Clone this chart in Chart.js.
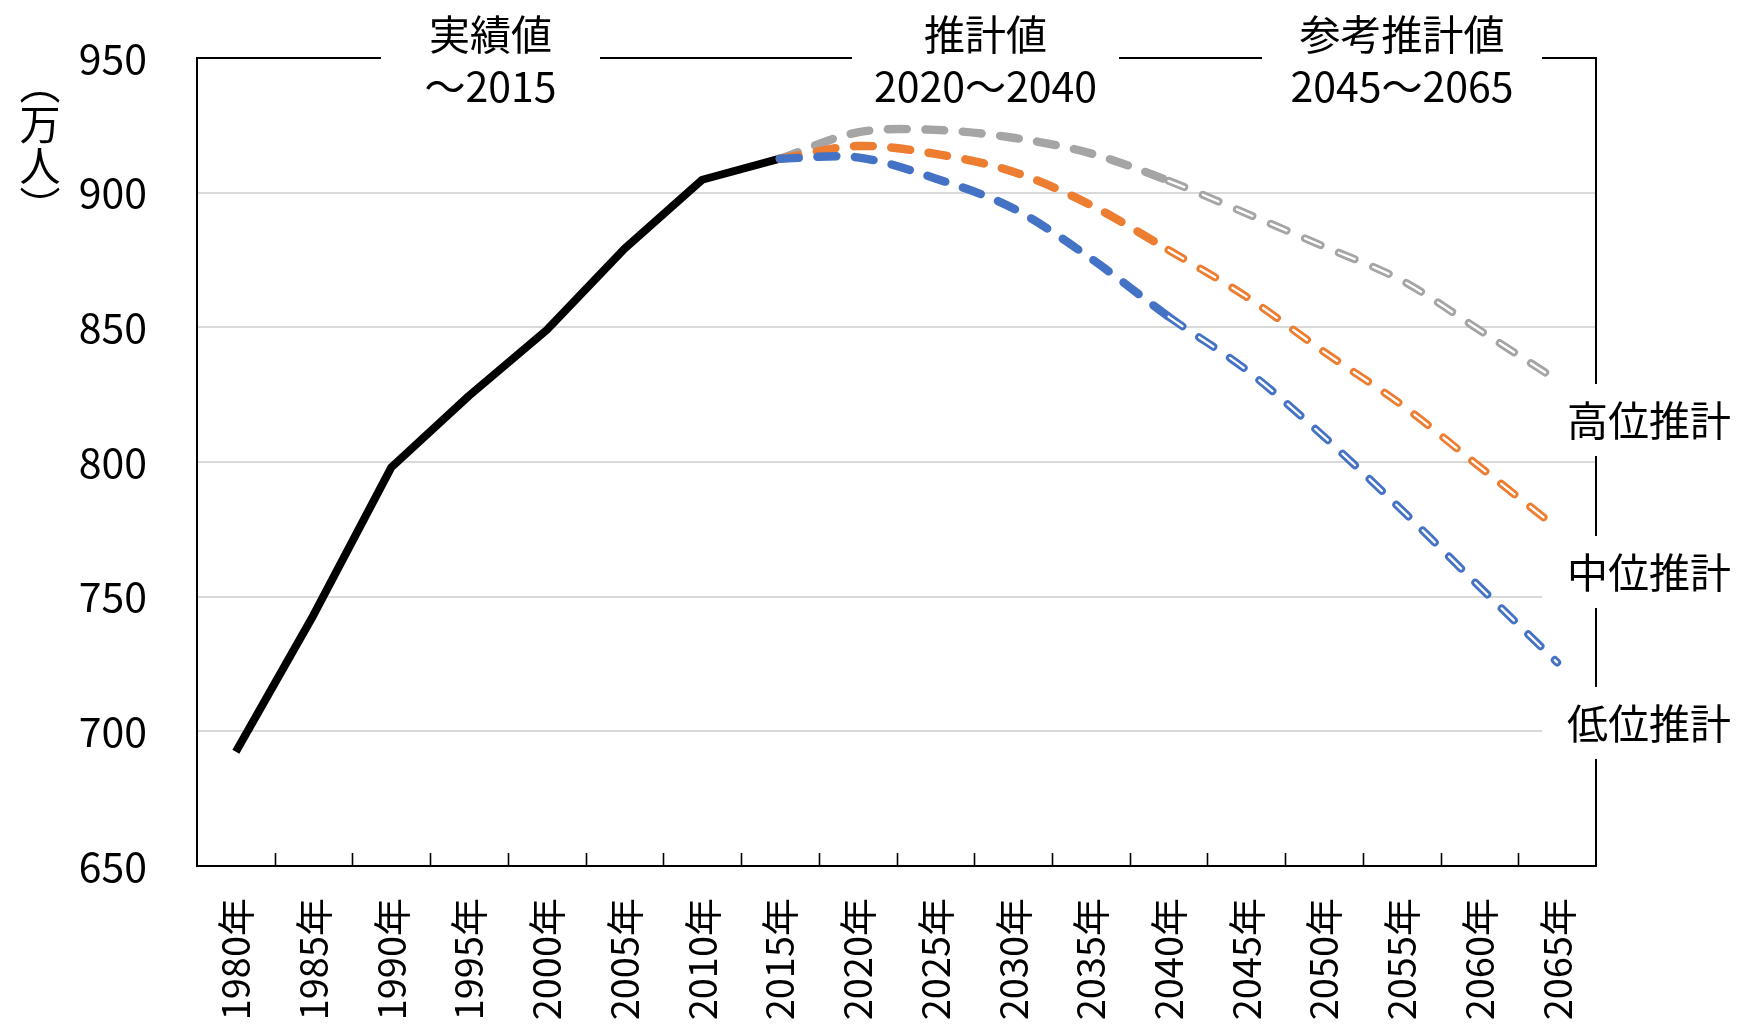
<!DOCTYPE html>
<html>
<head>
<meta charset="utf-8">
<script src="https://cdn.jsdelivr.net/npm/chart.js@4/dist/chart.umd.min.js"></script>
<style>
  html, body { margin: 0; padding: 0; background: #fff; }
  #wrap { width: 1738px; height: 1024px; }
</style>
</head>
<body>
<div id="wrap"><canvas id="c" width="1738" height="1024"></canvas></div>
<script>
// Population (万人): census results to 2015, projections 2020-2040, reference projections 2045-2065
const years = ['1980年','1985年','1990年','1995年','2000年','2005年','2010年','2015年','2020年',
               '2025年','2030年','2035年','2040年','2045年','2050年','2055年','2060年','2065年'];
const actual   = [692.4, 743.2, 798.0, 824.6, 849.0, 879.2, 904.8, 912.6];
// projection series start from the 2015 result
const highProj = [912.6, 922.4, 923.3, 920.4, 914.6, 904.4, 892.3, 880.0, 867.4, 849.0, 830.4];
const midProj  = [912.6, 917.3, 914.4, 907.8, 895.4, 878.7, 861.4, 840.9, 821.2, 798.3, 775.5];
const lowProj  = [912.6, 913.1, 905.3, 894.2, 875.6, 854.0, 834.2, 809.4, 782.2, 753.7, 725.6];
const yMin = 650, yMax = 950, yStep = 50;
const periodHeads = [['実績値', '～2015'], ['推計値', '2020～2040'], ['参考推計値', '2045～2065']];
const scenarioNames = ['高位推計', '中位推計', '低位推計'];
const unitLabel = ['︵', '万', '人', '︶'];

const FONT = "'Noto Sans CJK JP', 'Noto Sans', sans-serif";
const projStart = actual.length - 1;            // index of 2015
const refStart = years.indexOf('2040年');        // reference projections drawn hollow from here

const pad = (arr, before) => Array(before).fill(null).concat(arr, Array(years.length - before - arr.length).fill(null));

function projDatasets(values, color, order) {
  const data = pad(values, projStart);
  return [
    {
      data, order,
      borderColor: color,
      borderWidth: 8.4,
      borderCapStyle: 'round',
      borderJoinStyle: 'round',
      pointRadius: 0,
      tension: 0.33,
      segment: {
        borderWidth: c => c.p0DataIndex >= refStart ? 8 : 8.4,
        borderDash: c => c.p0DataIndex >= refStart ? [17, 20] : [19, 18.5]
      }
    },
    {
      data, order: order - 1,
      borderColor: '#fff',
      borderWidth: 2.3,
      borderCapStyle: 'round',
      pointRadius: 0,
      tension: 0.33,
      segment: {
        borderColor: c => c.p0DataIndex >= refStart ? '#ffffff' : 'rgba(255,255,255,0)',
        borderDash: c => [17, 20]
      }
    }
  ];
}

// frame, inner tick marks, text boxes and vertical unit label
const decorations = {
  id: 'decorations',
  afterDraw(chart) {
    const { ctx, chartArea: a, scales: { x } } = chart;
    ctx.save();
    ctx.strokeStyle = '#000';
    ctx.lineWidth = 2;
    ctx.beginPath();
    ctx.moveTo(a.left, a.top); ctx.lineTo(a.right, a.top);
    ctx.lineTo(a.right, a.bottom); ctx.lineTo(a.left, a.bottom);
    ctx.closePath();
    ctx.stroke();

    // tick marks between categories, pointing into the plot
    ctx.lineWidth = 1.6;
    ctx.beginPath();
    for (let i = 1; i < years.length; i++) {
      const px = Math.round((x.getPixelForValue(i - 1) + x.getPixelForValue(i)) / 2) + 0.5;
      ctx.moveTo(px, a.bottom);
      ctx.lineTo(px, a.bottom - 13);
    }
    ctx.stroke();

    // period headings over the top border
    const heads = [[381, 600], [852, 1119], [1262, 1542]];
    ctx.fillStyle = '#fff';
    heads.forEach(([l, r]) => ctx.fillRect(l, 0, r - l, 112));
    ctx.fillStyle = '#000';
    ctx.font = `41px ${FONT}`;
    ctx.textAlign = 'center';
    ctx.textBaseline = 'middle';
    periodHeads.forEach(([l1, l2], i) => {
      const cx = (heads[i][0] + heads[i][1]) / 2;
      ctx.fillText(l1, cx, 34);
      ctx.fillText(l2, cx, 86);
    });

    // scenario names over the right border
    const nameY = [420, 572, 723];
    ctx.fillStyle = '#fff';
    nameY.forEach(cy => ctx.fillRect(1542, cy - 36, 196, 72));
    ctx.fillStyle = '#000';
    ctx.textAlign = 'left';
    scenarioNames.forEach((s, i) => ctx.fillText(s, 1567, nameY[i]));

    // unit label, set vertically
    ctx.textAlign = 'center';
    unitLabel.forEach((ch, i) => ctx.fillText(ch, 40, 83 + i * 41));
    ctx.restore();
  }
};

new Chart(document.getElementById('c'), {
  type: 'line',
  data: {
    labels: years,
    datasets: [
      {
        data: pad(actual, 0), order: 10,
        borderColor: '#000', borderWidth: 8,
        borderJoinStyle: 'round',
        pointRadius: 0, tension: 0
      },
      ...projDatasets(highProj, '#A5A5A5', 6),
      ...projDatasets(midProj,  '#ED7D31', 4),
      ...projDatasets(lowProj,  '#4472C4', 2)
    ]
  },
  options: {
    responsive: false,
    animation: false,
    events: [],
    layout: { padding: { top: 58, right: 142, left: 0, bottom: 0 } },
    plugins: { legend: { display: false }, tooltip: { enabled: false }, title: { display: false } },
    scales: {
      x: {
        offset: true,
        border: { display: false },
        grid: { display: false },
        ticks: {
          autoSkip: false, minRotation: 90, maxRotation: 90, padding: 24,
          color: '#000', font: { family: FONT, size: 38 }
        },
        afterFit(s) { s.height = 158; s.paddingLeft = 0; s.paddingRight = 0; }
      },
      y: {
        min: yMin, max: yMax,
        border: { display: false },
        grid: {
          drawTicks: false,
          lineWidth: 2,
          color: c => (c.tick && (c.tick.value === yMin || c.tick.value === yMax)) ? 'rgba(0,0,0,0)' : '#d9d9d9'
        },
        ticks: {
          stepSize: yStep, padding: 50,
          color: '#000', font: { family: FONT, size: 41 }
        },
        afterFit(s) { s.width = 197; s.paddingTop = 0; s.paddingBottom = 0; }
      }
    }
  },
  plugins: [decorations]
});
</script>
</body>
</html>
